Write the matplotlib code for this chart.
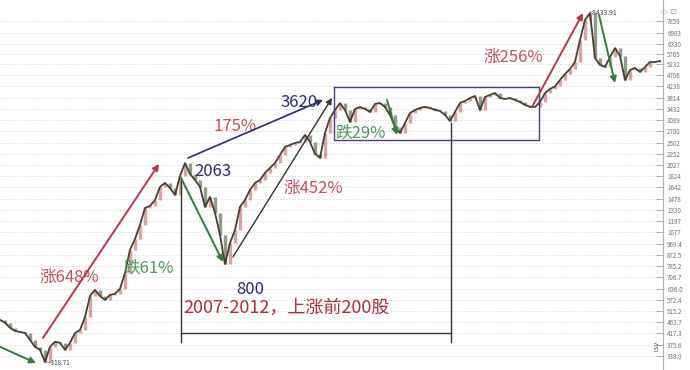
import matplotlib
matplotlib.use("Agg")
import numpy as np
import matplotlib.pyplot as plt

plt.rcParams['font.family'] = ['Noto Sans CJK SC', 'DejaVu Sans']

# closing levels, one every few bars
close = [474, 461, 440, 427, 423, 419, 393, 368, 358, 319,
         368, 386, 382, 358, 382, 419, 431, 487, 593, 628,
         593, 572, 599, 605, 634, 736, 914, 1013, 1155, 1355,
         1381, 1461, 1650, 1713, 1635, 1531, 1830, 2063, 1864, 1762,
         1650, 1368, 1502, 1293, 1052, 800, 976, 1102, 1368, 1461,
         1604, 1713, 1762, 1882, 1972, 2067, 2228, 2402, 2447, 2494,
         2517, 2688, 2517, 2250, 2170, 2739, 3153, 3398, 3620, 3400,
         3037, 3430, 3496, 3430, 3335, 3595, 3629, 3496, 3243, 2897,
         2739, 3008, 3304, 3398, 3463, 3496, 3463, 3398, 3366, 3243,
         3065, 3335, 3629, 3697, 3803, 3876, 3398, 3839, 3912, 3986,
         3803, 3768, 3803, 3733, 3663, 3563, 3496, 3496, 3663, 3986,
         4138, 4238, 4503, 4764, 4993, 5331, 6554, 7907, 8434, 5535,
         5184, 5087, 5587, 6075, 5640, 4503, 4946, 5040, 4854, 5087,
         5331, 5331, 5381]

tick_labels = ['338.0', '375.6', '417.3', '463.7', '515.2', '572.4', '636.0',
               '706.7', '785.2', '872.5', '969.4', '1077', '1197', '1330',
               '1478', '1642', '1824', '2027', '2252', '2502', '2780', '3089',
               '3432', '3814', '4238', '4706', '5232', '5765', '6330', '6983',
               '7859']
tick_values = [float(t) for t in tick_labels]

RED = '#b8384a'
RED_TXT = '#c4505e'
GREEN = '#2f7d3c'
GREEN_TXT = '#4a9a5a'
NAVY = '#2d2b6e'

fig = plt.figure(figsize=(6.9, 3.7), dpi=100)
ax = fig.add_axes([0, 0, 663 / 690, 1])

x = np.arange(len(close))
c = np.array(close, dtype=float)
o = np.concatenate([[c[0]], c[:-1]])
up = c >= o

# candle bodies + connecting line
ax.vlines(x[up], o[up], c[up], color='#b85a5a', lw=2.4, alpha=0.55, zorder=2)
ax.vlines(x[~up], c[~up], o[~up], color='#3c4a2a', lw=2.4, alpha=0.55, zorder=2)
ax.plot(x, c, color='#473f2e', lw=1.3, zorder=3)

ax.set_yscale('log')
ax.set_xlim(0, 132.6)
ax.set_ylim(296, 9540)
ax.set_yticks(tick_values)
ax.set_yticklabels(tick_labels)
ax.yaxis.set_minor_locator(matplotlib.ticker.NullLocator())
ax.yaxis.tick_right()
ax.tick_params(axis='y', direction='in', length=5, width=0.6, color='#a0a0a0',
               labelsize=4.5, labelcolor='#707070', pad=3)
ax.set_xticks([])
for s in ['top', 'left', 'bottom']:
    ax.spines[s].set_visible(False)
ax.spines['right'].set_color('#b0b0b0')
ax.spines['right'].set_linewidth(0.8)
ax.yaxis.grid(True, linestyle=(0, (1, 2)), color='#cccccc', lw=0.7)
ax.set_axisbelow(True)


def arrow(x0, y0, x1, y1, color, lw=1.4):
    ax.annotate('', xy=(x1, y1), xytext=(x0, y0),
                arrowprops=dict(arrowstyle='-|>', color=color, lw=lw,
                                mutation_scale=9, shrinkA=0, shrinkB=0),
                zorder=5)


# arrows
arrow(0, 368, 7.2, 316, GREEN)
arrow(8.6, 400, 31.8, 2048, RED)
arrow(36.4, 1762, 44.6, 816, GREEN)
arrow(37.6, 2166, 64.6, 3733, NAVY, lw=1.2)
arrow(46.6, 856, 66.4, 3803, '#333333', lw=1.0)
arrow(77.4, 3733, 79.4, 2688, GREEN)
arrow(106.4, 3496, 116.6, 8443, RED)
arrow(119.8, 8285, 123.0, 4378, GREEN)

# bracket lines and box
ax.plot([36.2, 36.2], [1795, 385], color='#333333', lw=1.0, zorder=4)
ax.plot([90.2, 90.2], [3008, 385], color='#333333', lw=1.0, zorder=4)
ax.plot([36.2, 90.2], [419, 419], color='#333333', lw=1.0, zorder=4)
ax.plot([66.8, 107.8, 107.8, 66.8, 66.8], [4217, 4217, 2565, 2565, 4217],
        color='#4a3c7a', lw=1.0, zorder=4)

# labels
ax.text(13.8, 703, '涨648%', color=RED_TXT, fontsize=12, ha='center', va='center')
ax.text(29.8, 772, '跌61%', color=GREEN_TXT, fontsize=12, ha='center', va='center')
ax.text(38.8, 1900, '2063', color=NAVY, fontsize=12, ha='left', va='center')
ax.text(50, 628, '800', color=NAVY, fontsize=12, ha='center', va='center')
ax.text(47, 2897, '175%', color=RED_TXT, fontsize=12, ha='center', va='center')
ax.text(59.8, 3629, '3620', color=NAVY, fontsize=12, ha='center', va='center')
ax.text(62.6, 1635, '涨452%', color=RED_TXT, fontsize=12, ha='center', va='center')
ax.text(72.2, 2739, '跌29%', color=GREEN_TXT, fontsize=12, ha='center', va='center')
ax.text(102.6, 5587, '涨256%', color=RED_TXT, fontsize=12, ha='center', va='center')
ax.text(36.6, 530, '2007-2012，上涨前200股', color='#a8303e', fontsize=13,
        ha='left', va='center')
ax.text(9.2, 316, '—318.71', color='#444444', fontsize=4.5, ha='left', va='center')
ax.text(117.8, 8434, '~8433.91', color='#444444', fontsize=5, ha='left', va='center')

fig.text(661 / 690, 1 - 12 / 370, '◇ ⊡', color='#a0a0a0', fontsize=6,
         family='DejaVu Sans', ha='left', va='center')
fig.text(657 / 690, 1 - 346 / 370, 'LSV', color='#444444', fontsize=4,
         rotation=90, family='DejaVu Sans', ha='center', va='center')

fig.savefig('out.png', dpi=100)
